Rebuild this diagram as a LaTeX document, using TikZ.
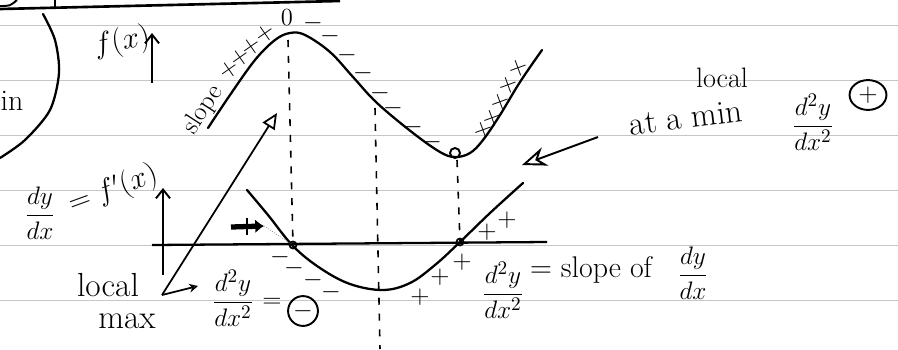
\documentclass[tikz,border=0pt]{standalone}
\usetikzlibrary{arrows.meta,shapes.geometric}
\begin{document}
\begin{tikzpicture}[x=0.02cm, y=-0.02cm,
    curve/.style={line width=1.3pt, line cap=round},
    ruled/.style={gray!45, line width=0.5pt},
    guide/.style={line width=0.9pt, dash pattern=on 4pt off 5pt},
    hand/.style={font=\fontsize{19}{21}\selectfont, inner sep=0pt},
    frac/.style={font=\fontsize{15}{17}\selectfont, inner sep=0pt},
    sign/.style={font=\fontsize{15}{15}\selectfont, inner sep=0pt}]
  \useasboundingbox (0,0) rectangle (898,349);
  \fill[white] (0,0) rectangle (898,349);

  % --- linhas do caderno ---
  \foreach \ly in {25,80,...,300}
    \draw[ruled] (0,\ly) -- (898,\ly);

  % --- restos da nota anterior (topo) ---
  \draw[line width=1.5pt] (0,9) -- (340,1);
  \draw[line width=1.1pt] (55,0) -- (55,8);
  \draw[line width=1.1pt] (0,6) .. controls (10,6) .. (17,0);
  \draw[curve] plot[smooth] coordinates {(43,14) (55,40) (59,73) (50,110) (25,140) (0,158)};
  \node[font=\fontsize{17}{17}\selectfont, inner sep=0pt] (in) at (12,101) {in};

  % --- grafico de f(x) ---
  \coordinate (fbase) at (152,83);
  \coordinate (ftop) at (152,33);
  \draw[line width=1.1pt, -{Straight Barb[length=5pt,width=8pt]}] (fbase) -- (ftop);
  \node[font=\fontsize{16}{16}\selectfont, rotate=10, inner sep=0pt] (flabel) at (122,42) {$f(x)$};

  \draw[curve] plot[smooth, tension=0.6] coordinates {(208,128) (230,95) (255,60) (275,40) (290,33)
    (305,35) (330,52) (353,77) (377,103) (413,133) (440,152) (455,157) (470,153) (483,140)
    (500,115) (520,82) (542,50)};

  \node[font=\fontsize{15}{15}\selectfont, rotate=57, inner sep=0pt] (slope) at (203,110) {slope};
  \foreach \p [count=\i] in {(229,70),(240,58),(251,47),(265,34)}
    \node[sign, rotate=35] (sp\i) at \p {$+$};
  \node[font=\fontsize{14}{14}\selectfont, inner sep=0pt] (zero) at (287,18) {0};
  \coordinate (fmin) at (455,153);
  \draw[line width=1.1pt] (fmin) circle (5);

  % sinais da inclinacao de f
  \foreach \p [count=\i] in {(313,23),(330,36),(347,55),(363,73),(380,93),(393,108),(413,127),(432,142)}
    \node[sign] (fm\i) at \p {$-$};
  \foreach \p [count=\i] in {(483,130),(492,118),(500,102),(508,85),(518,68)}
    \node[sign, rotate=20] (fp\i) at \p {$+$};

  % --- linhas tracejadas verticais ---
  \draw[guide] (288,40) -- (293,245);
  \draw[guide] (375,108) -- (380,349);
  \draw[guide] (457,160) -- (460,242);

  % --- grafico de dy/dx ---
  \coordinate (dbase) at (163,275);
  \coordinate (dtop) at (163,188);
  \coordinate (dleft) at (152,245);
  \coordinate (dright) at (547,242);
  \draw[line width=1.1pt, -{Straight Barb[length=5pt,width=8pt]}] (dbase) -- (dtop);
  \draw[line width=1.3pt] (dleft) -- (dright);

  \draw[curve] plot[smooth, tension=0.6] coordinates {(247,190) (268,215) (293,246) (320,268)
    (350,284) (383,290) (410,283) (435,265) (460,242) (490,213) (523,183)};

  \coordinate (zmax) at (293,245);
  \coordinate (zmin) at (460,242);
  \draw[line width=1pt] (zmax) circle (3.5);
  \draw[line width=1pt] (zmin) circle (3.5);

  \foreach \p [count=\i] in {(280,257),(294,268),(313,280),(331,292)}
    \node[sign] (dm\i) at \p {$-$};
  \foreach \p [count=\i] in {(420,297),(440,277),(462,262),(487,232),(507,220)}
    \node[sign] (dp\i) at \p {$+$};

  % seta cheia apontando para o zero
  \coordinate (blobA) at (231,227);
  \coordinate (blobB) at (264,226);
  \draw[line width=3pt, -{Latex[length=5pt,width=8pt]}] (blobA) -- (blobB);
  \draw[line width=0.8pt] (247,218) -- (247,235);
  \draw[densely dotted, gray] (blobB) -- (zmax);

  \node[frac] (dydx) at (40,213) {$\displaystyle\frac{dy}{dx}$};
  \node[font=\fontsize{16}{16}\selectfont, rotate=20, inner sep=0pt] (fprime) at (113,190) {$=f'(x)$};

  % --- maximo local ---
  \node[hand] (local) at (108,285) {local};
  \node[hand] (max) at (127,321) {max};
  \coordinate (fork) at (162,295);
  \coordinate (peak) at (277,113);
  \coordinate (dsec) at (198,286);
  \draw[line width=1pt, -{Triangle[open,length=9pt,width=8pt]}] (fork) -- (peak);
  \draw[line width=1pt, -{Stealth[open,length=5pt,width=5pt]}] (fork) -- (dsec);
  \node[frac] (maxfrac) at (233,298) {$\displaystyle\frac{d^2y}{dx^2}$};
  \node[frac] (maxeq) at (272,303) {$=$};
  \node[draw, circle, line width=1.1pt, minimum size=17pt, inner sep=0pt, font=\fontsize{14}{14}\selectfont] (minus) at (303,311) {$-$};

  % --- igualdade da segunda derivada ---
  \node[frac] (secfrac) at (503,290) {$\displaystyle\frac{d^2y}{dx^2}$};
  \node[font=\fontsize{17}{17}\selectfont, inner sep=0pt] (slopeof) at (591,270) {$=$ slope of};
  \node[frac] (firstfrac) at (693,273) {$\displaystyle\frac{dy}{dx}$};

  % --- minimo local ---
  \node[font=\fontsize{16}{16}\selectfont, inner sep=0pt] (local2) at (722,78) {local};
  \node[hand, rotate=7] (atmin) at (686,118) {at a min};
  \node[frac] (minfrac) at (813,122) {$\displaystyle\frac{d^2y}{dx^2}$};
  \node[draw, ellipse, line width=1.1pt, minimum width=21pt, minimum height=17pt, inner sep=0pt, font=\fontsize{14}{14}\selectfont] (plus) at (868,95) {$+$};
  \coordinate (arrowtail) at (598,137);
  \coordinate (arrowtip) at (522,165);
  \draw[line width=1.1pt, -{Stealth[open,length=14pt,width=11pt]}] (arrowtail) -- (arrowtip);
\end{tikzpicture}
\end{document}
